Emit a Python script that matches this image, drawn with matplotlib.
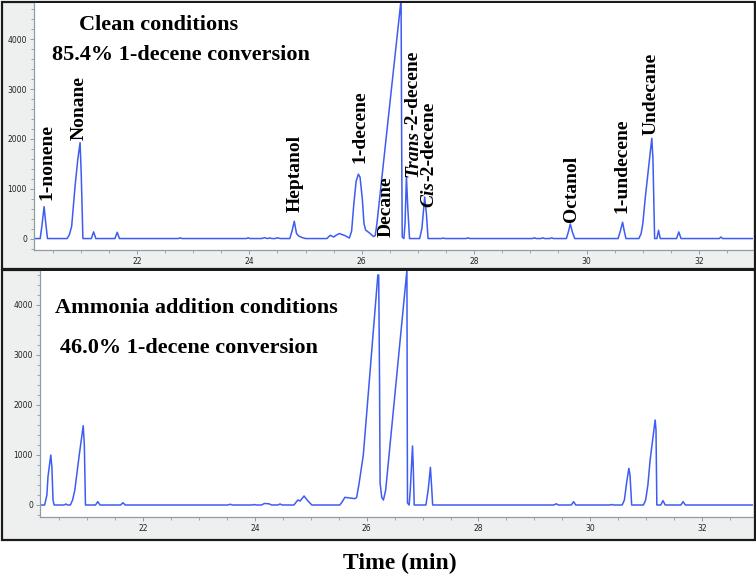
import matplotlib
matplotlib.use("Agg")
import matplotlib.pyplot as plt
from matplotlib.patches import Rectangle
from matplotlib.ticker import MultipleLocator

W, H = 756, 579

# ---- Data: chromatogram vertices (time in min, signal) ----
clean_t = [20.17, 20.28, 20.31, 20.35, 20.38, 20.41, 20.76, 20.80, 20.84, 20.90, 20.95, 20.99, 21.01, 21.04,
           21.19, 21.23, 21.27, 21.61, 21.65, 21.69, 22.74, 22.77, 22.80, 23.95, 23.98, 24.01,
           24.22, 24.27, 24.32, 24.37, 24.40, 24.46, 24.50, 24.55,
           24.72, 24.76, 24.80, 24.84, 24.88, 24.94, 25.00,
           25.38, 25.44, 25.50, 25.55, 25.60, 25.70, 25.78,
           25.82, 25.86, 25.90, 25.94, 25.97, 26.01, 26.04, 26.07, 26.14, 26.21,
           26.24, 26.27, 26.70, 26.71, 26.72, 26.75,
           26.77, 26.795, 26.82, 26.85,
           27.03, 27.07, 27.12, 27.15, 27.18,
           27.42, 27.45, 27.48, 27.86, 27.89, 27.92,
           29.04, 29.07, 29.10, 29.19, 29.22, 29.25, 29.35, 29.38, 29.41,
           29.64, 29.68, 29.71, 29.75, 29.79,
           30.56, 30.60, 30.64, 30.67, 30.70,
           30.93, 30.97, 31.00, 31.04, 31.10, 31.16, 31.18, 31.21,
           31.25, 31.28, 31.31, 31.60, 31.64, 31.68, 32.36, 32.39, 32.42, 33.00]
clean_v = [0, 0, 250, 640, 300, 0, 0, 80, 246, 1046, 1600, 1926, 1300, 0,
           0, 134, 0, 0, 126, 0, 0, 15, 0, 0, 15, 0,
           0, 18, 0, 12, 0, 0, 15, 0,
           0, 150, 346, 100, 50, 20, 0,
           0, 66, 30, 70, 100, 60, 10,
           150, 700, 1150, 1293, 1230, 800, 300, 170, 110, 40,
           60, 300, 4800, 2000, 30, 0,
           300, 1246, 600, 0,
           0, 200, 833, 500, 0,
           0, 10, 0, 0, 15, 0,
           0, 15, 0, 0, 15, 0, 0, 15, 0,
           0, 150, 293, 120, 0,
           0, 150, 327, 150, 0,
           0, 100, 300, 780, 1400, 2013, 1600, 0,
           0, 166, 0, 0, 133, 0, 0, 30, 0, 0]

ammonia_t = [20.15, 20.24, 20.28, 20.30, 20.35, 20.37, 20.39, 20.41,
             20.59, 20.62, 20.65,
             20.70, 20.74, 20.78, 20.855, 20.93, 20.95, 20.97,
             21.15, 21.19, 21.23, 21.60, 21.64, 21.68,
             23.52, 23.56, 23.60, 23.96, 23.99, 24.02, 24.12, 24.17, 24.25, 24.30, 24.41, 24.45, 24.49,
             24.70, 24.74, 24.77, 24.81, 24.88, 24.95, 25.02,
             25.52, 25.56, 25.61, 25.70, 25.79, 25.82, 25.86, 25.94, 26.20, 26.215, 26.23, 26.24,
             26.27, 26.30, 26.34, 26.72, 26.725, 26.73, 26.76,
             26.78, 26.82, 26.835, 26.85,
             27.06, 27.10, 27.14, 27.16, 27.18,
             29.35, 29.39, 29.43, 29.66, 29.70, 29.74, 30.35, 30.38, 30.41,
             30.57, 30.61, 30.65, 30.69, 30.71, 30.74,
             30.95, 30.99, 31.03, 31.07, 31.16, 31.175, 31.19,
             31.26, 31.30, 31.34, 31.62, 31.66, 31.70, 33.00]
ammonia_v = [0, 0, 200, 567, 1000, 750, 100, 0,
             0, 20, 0,
             0, 100, 300, 967, 1587, 1200, 0,
             0, 67, 0, 0, 47, 0,
             0, 15, 0, 0, 10, 0, 0, 30, 25, 0, 0, 20, 0,
             0, 60, 100, 80, 180, 80, 0,
             0, 60, 153, 140, 127, 150, 400, 1000, 4600, 4600, 2500, 440,
             150, 100, 300, 4700, 2000, 40, 0,
             300, 1180, 700, 0,
             0, 300, 753, 400, 0,
             0, 25, 0, 0, 67, 0, 0, 10, 0,
             0, 100, 450, 733, 600, 0,
             0, 100, 400, 900, 1700, 1500, 0,
             0, 87, 0, 0, 67, 0, 0]

# peak labels: (text, italic prefix, time, signal at label start)
peak_names = ["1-nonene", "Nonane", "Heptanol", "1-decene", "Decane",
              "-2-decene", "-2-decene", "Octanol", "1-undecene", "Undecane"]
peak_prefix = ["", "", "", "", "", "Trans", "Cis", "", "", ""]
peak_t = [20.40, 20.97, 24.82, 25.97, 26.44, 26.905, 27.19, 29.73, 30.62, 31.14]
peak_v = [780, 1980, 540, 1520, 40, 1240, 640, 340, 520, 2080]

top_title = ["Clean conditions", "85.4% 1-decene conversion"]
bottom_title = ["Ammonia addition conditions", "46.0% 1-decene conversion"]
y_ticks = [0, 1000, 2000, 3000, 4000]
x_ticks = [22, 24, 26, 28, 30, 32]

LINE = "#3d5cf2"
SPINE = "#8e9ca8"
PANEL_BG = "#eef0f0"
SERIF = "Liberation Serif"

fig = plt.figure(figsize=(W / 100, H / 100), dpi=100)
fig.patch.set_facecolor("white")


def px_rect(x0, y0, x1, y1):
    return [x0 / W, 1 - y1 / H, (x1 - x0) / W, (y1 - y0) / H]


# panel frames
for (x0, y0, x1, y1) in [(1.5, 1.5, 754.5, 269), (1.5, 270, 754.5, 540)]:
    r = Rectangle((x0 / W, 1 - y1 / H), (x1 - x0) / W, (y1 - y0) / H,
                  transform=fig.transFigure, facecolor=PANEL_BG,
                  edgecolor="#1a1a1a", lw=1.6, zorder=0)
    fig.add_artist(r)

ax1 = fig.add_axes(px_rect(34, 3, 753, 250))
ax2 = fig.add_axes(px_rect(40, 271, 753, 517))


def style(ax, xlim, ylim):
    ax.set_facecolor("white")
    ax.set_xlim(*xlim)
    ax.set_ylim(*ylim)
    for s in ["top", "right"]:
        ax.spines[s].set_visible(False)
    for s in ["left", "bottom"]:
        ax.spines[s].set_color(SPINE)
        ax.spines[s].set_linewidth(0.9)
    ax.set_yticks(y_ticks)
    ax.set_xticks(x_ticks)
    ax.yaxis.set_minor_locator(MultipleLocator(200))
    ax.xaxis.set_minor_locator(MultipleLocator(0.5))
    ax.tick_params(which="major", length=3, width=0.7, color=SPINE,
                   labelsize=5.5, labelcolor="#222222", pad=2)
    ax.tick_params(which="minor", length=2, width=0.6, color=SPINE)


style(ax1, (20.17, 32.96), (-230, 4730))
style(ax2, (20.157, 32.91), (-240, 4680))

ax1.plot(clean_t, clean_v, color=LINE, lw=1.1, clip_on=True)
ax2.plot(ammonia_t, ammonia_v, color=LINE, lw=1.1, clip_on=True)

# peak labels
for name, pre, t, v in zip(peak_names, peak_prefix, peak_t, peak_v):
    if pre:
        t1 = ax1.text(t, v, pre, rotation=90, ha="center", va="bottom",
                      fontsize=14, fontweight="bold", fontstyle="italic",
                      family=SERIF, color="black")
        ax1.annotate(name, xy=(0.5, 1.0), xycoords=t1, rotation=90,
                     ha="center", va="bottom", fontsize=14,
                     fontweight="bold", family=SERIF, color="black")
    else:
        ax1.text(t, v, name, rotation=90, ha="center", va="bottom",
                 fontsize=14, fontweight="bold", family=SERIF, color="black")

# titles
fig.text(79 / W, 1 - 30 / H, top_title[0], fontsize=16, fontweight="bold",
         family=SERIF, ha="left", va="baseline")
fig.text(52 / W, 1 - 60 / H, top_title[1], fontsize=16, fontweight="bold",
         family=SERIF, ha="left", va="baseline")
fig.text(55 / W, 1 - 313 / H, bottom_title[0], fontsize=16, fontweight="bold",
         family=SERIF, ha="left", va="baseline")
fig.text(60 / W, 1 - 353 / H, bottom_title[1], fontsize=16, fontweight="bold",
         family=SERIF, ha="left", va="baseline")
fig.text(400 / W, 1 - 569 / H, "Time (min)", fontsize=17, fontweight="bold",
         family=SERIF, ha="center", va="baseline")

fig.savefig("out.png", dpi=100)
